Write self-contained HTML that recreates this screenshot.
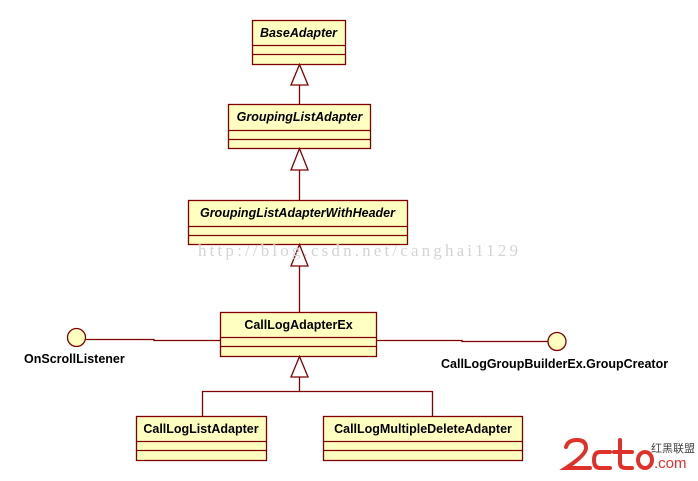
<!DOCTYPE html>
<html><head><meta charset="utf-8"><style>
html,body{margin:0;padding:0;background:#fff;width:698px;height:481px;overflow:hidden}
svg text{font-family:"Liberation Sans","DejaVu Sans",sans-serif;font-weight:bold;font-size:12.5px;fill:#000}
</style></head><body>
<svg width="698" height="481" viewBox="0 0 698 481" xmlns="http://www.w3.org/2000/svg">
<g stroke="#800000" stroke-width="1.3" fill="#ffffc0">
<rect x="252.5" y="20.5" width="93" height="44"/>
<line x1="252" y1="45.5" x2="346" y2="45.5"/><line x1="252" y1="54.5" x2="346" y2="54.5"/>
<rect x="228.5" y="104.5" width="142" height="44"/>
<line x1="228" y1="130.5" x2="371" y2="130.5"/><line x1="228" y1="139.5" x2="371" y2="139.5"/>
<rect x="188.5" y="200.5" width="219" height="44"/>
<line x1="188" y1="226.5" x2="408" y2="226.5"/><line x1="188" y1="235.5" x2="408" y2="235.5"/>
<rect x="220.5" y="312.5" width="156" height="44"/>
<line x1="220" y1="337.5" x2="377" y2="337.5"/><line x1="220" y1="346.5" x2="377" y2="346.5"/>
<rect x="136.5" y="416.5" width="130" height="44"/>
<line x1="136" y1="441.5" x2="267" y2="441.5"/><line x1="136" y1="450.5" x2="267" y2="450.5"/>
<rect x="323.5" y="416.5" width="199" height="44"/>
<line x1="323" y1="441.5" x2="523" y2="441.5"/><line x1="323" y1="450.5" x2="523" y2="450.5"/>
</g>
<g stroke="#800000" stroke-width="1.3" fill="none">
<line x1="299.5" y1="85" x2="299.5" y2="104"/>
<line x1="299.5" y1="170" x2="299.5" y2="200"/>
<line x1="299.5" y1="266" x2="299.5" y2="312"/>
<polyline points="299.5,377 299.5,391.5 202.5,391.5 202.5,416"/>
<polyline points="299.5,391.5 432.5,391.5 432.5,416"/>
<polyline points="86,339.5 154,339.5 154,340.5 220,340.5"/>
<polyline points="376,340.5 462,340.5 462,341.5 548,341.5"/>
</g>
<g stroke="#800000" stroke-width="1.3" fill="#fff">
<polygon points="299.5,64.5 291,85 308,85"/>
<polygon points="299.5,148.5 291,170 308,170"/>
<polygon points="299.5,244.5 291,266 308,266"/>
<polygon points="299.5,356.5 291,377 308,377"/>
</g>
<g stroke="#800000" stroke-width="1.3" fill="#ffffc0">
<ellipse cx="76.5" cy="337.5" rx="9" ry="9"/>
<ellipse cx="557" cy="341.5" rx="9" ry="9"/>
</g>
<text x="298.5" y="37" text-anchor="middle" font-style="italic">BaseAdapter</text>
<text x="299.5" y="121" text-anchor="middle" font-style="italic">GroupingListAdapter</text>
<text x="297.5" y="217" text-anchor="middle" font-style="italic">GroupingListAdapterWithHeader</text>
<text x="298.5" y="329" text-anchor="middle">CallLogAdapterEx</text>
<text x="201" y="433" text-anchor="middle">CallLogListAdapter</text>
<text x="423" y="433" text-anchor="middle">CallLogMultipleDeleteAdapter</text>
<text x="24" y="363">OnScrollListener</text>
<text x="441" y="368">CallLogGroupBuilderEx.GroupCreator</text>
<text x="198" y="256" textLength="320" style="font-family:'Liberation Serif',serif;font-weight:normal;font-size:17px;fill:#d4d4d4">http://blog.csdn.net/canghai1129</text>
<g fill="none" stroke="#e0302a" stroke-width="4" stroke-linecap="round">
<path d="M566,447 Q568,440 577,440 Q586,440 586,448 Q586,455 566,468 L590,468"/>
<path d="M610,452 L600,452 Q594,452 594,460 Q594,468 600,468 L610,468"/>
<path d="M620,440 L620,463 Q620,468 626,468 L632,468 M614,452 L632,452"/>
<ellipse cx="645" cy="460" rx="7" ry="8"/>
</g>
<text x="654" y="468" style="font-weight:normal;font-size:15px;fill:#e0302a">.com</text>
<text x="651" y="452" style="font-family:'Noto Sans CJK SC',sans-serif;font-weight:normal;font-size:11px;fill:#444">红黑联盟</text>
</svg>
</body></html>
